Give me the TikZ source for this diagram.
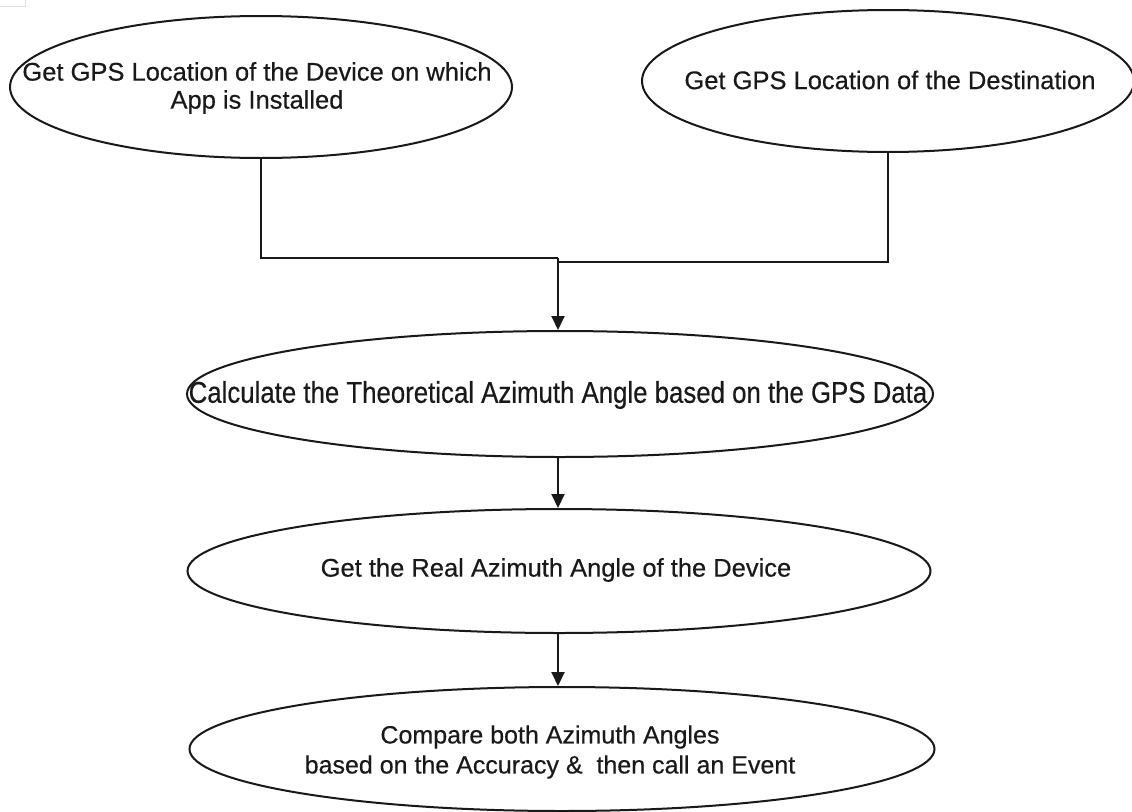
\documentclass[tikz,border=0pt]{standalone}
\usepackage{fontspec}
\setmainfont[FakeBold=0.4]{Liberation Sans}
\newfontfamily\tallfont[FakeStretch=0.86,FakeBold=0.4]{Liberation Sans}
\usetikzlibrary{shapes.geometric,arrows.meta}
\begin{document}
\begin{tikzpicture}[x=1pt,y=-1pt,
  oval/.style={draw=black!90,line width=2pt,ellipse,inner sep=0pt},
  txt/.style={font=\fontsize{25.5}{28}\selectfont,text=black!90,align=center,inner sep=0pt},
  link/.style={draw=black!90,line width=2pt},
  arr/.style={link,-{Triangle[length=14pt,width=13pt]}}]
\useasboundingbox[fill=white] (0,0) rectangle (1132,811);
\draw[black!12,line width=1pt] (0,6) -- (25,6) -- (25,0);
% ellipses
\node[oval,minimum width=502pt,minimum height=142pt] (e1) at (261,87) {};
\node[oval,minimum width=492pt,minimum height=142pt] (e2) at (888,81) {};
\node[oval,minimum width=746pt,minimum height=126pt] (e3) at (560,394) {};
\node[oval,minimum width=743pt,minimum height=124pt] (e4) at (559,571) {};
\node[oval,minimum width=745pt,minimum height=124pt] (e5) at (562,749) {};
% texts
\node[txt] (t1) at (257,88) {Get GPS Location of the Device on which\\App is Installed};
\node[txt] (t2) at (890,80) {Get GPS Location of the Destination};
\node[txt,font=\fontsize{30}{32}\tallfont] (t3) at (558,395) {Calculate the Theoretical Azimuth Angle based on the GPS Data};
\node[txt] (t4) at (556,570) {Get the Real Azimuth Angle of the Device};
\node[txt,font=\fontsize{25}{30}\selectfont] (t5) at (550,752) {Compare both Azimuth Angles\\based on the Accuracy \&\ \ then call an Event};
% connectors
\coordinate (j) at (558,258);
\draw[link] (e1.south) |- (j);
\draw[link] (e2.south) |- ([yshift=-4pt]j);
\draw[arr] (j) -- (e3.north -| j);
\draw[arr] (e3.south -| j) -- (e4.north -| j);
\draw[arr] (e4.south -| j) -- (e5.north -| j);
\end{tikzpicture}
\end{document}
